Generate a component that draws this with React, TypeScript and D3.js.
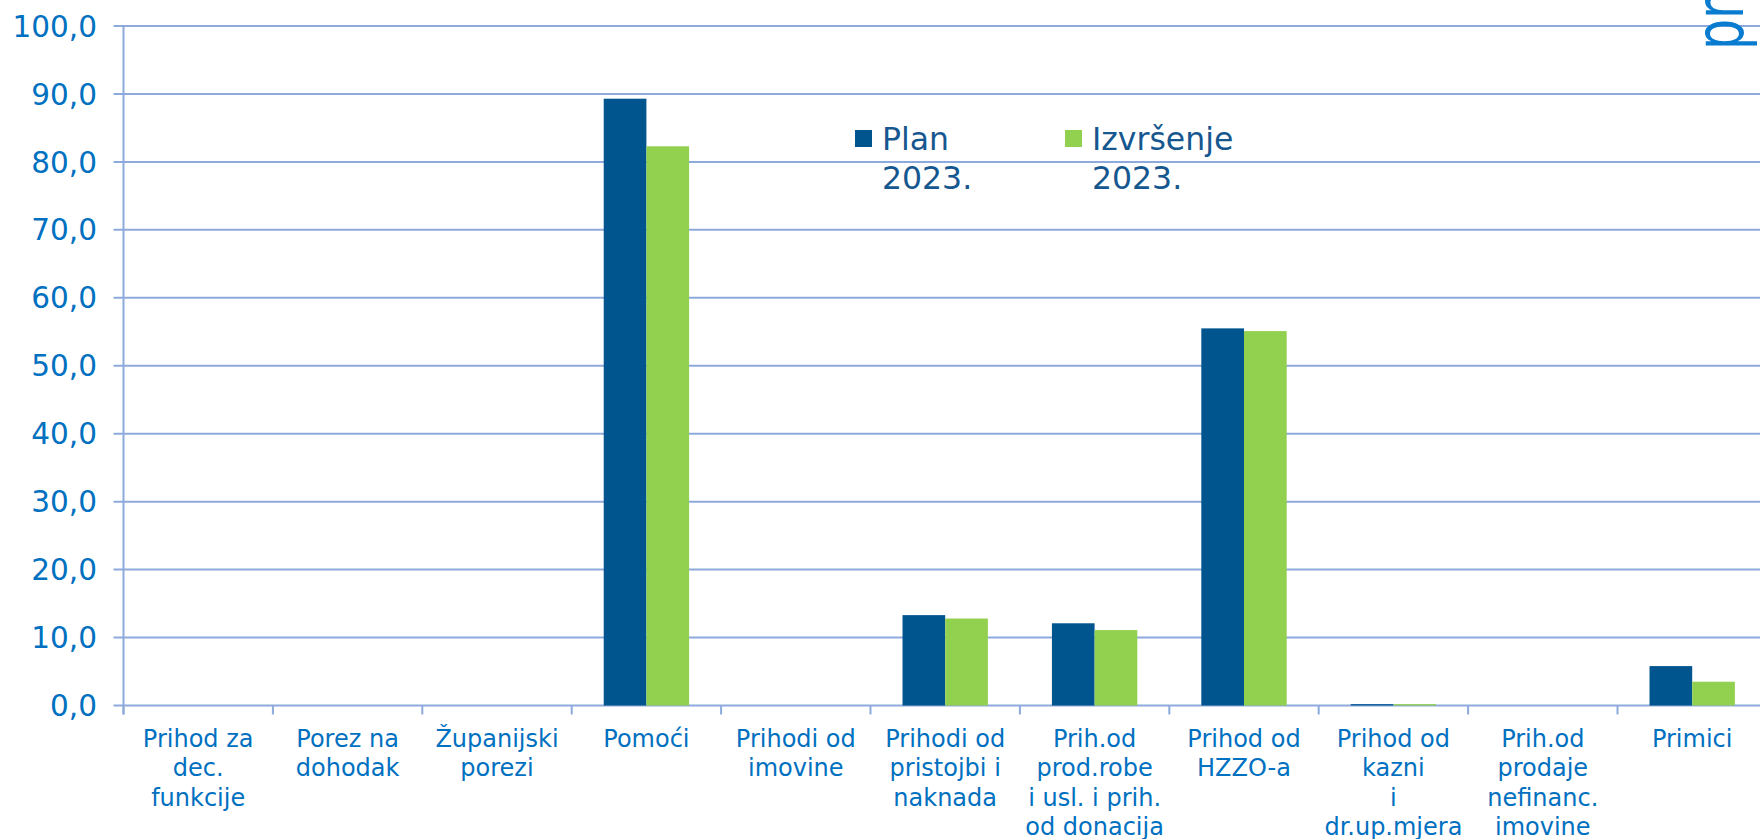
import React from "react";
import * as d3 from "d3";

const categories: string[] = [
  "Prihod za\ndec.\nfunkcije",
  "Porez na\ndohodak",
  "Županijski\nporezi",
  "Pomoći",
  "Prihodi od\nimovine",
  "Prihodi od\npristojbi i\nnaknada",
  "Prih.od\nprod.robe\ni usl. i prih.\nod donacija",
  "Prihod od\nHZZO-a",
  "Prihod od\nkazni\ni\ndr.up.mjera",
  "Prih.od\nprodaje\nnefinanc.\nimovine",
  "Primici",
];
const seriesNames: string[] = ["Plan 2023.", "Izvršenje 2023."];
const planValues: number[] = [0, 0, 0, 89.3, 0, 13.3, 12.1, 55.5, 0.2, 0, 5.8];
const izvrsenjeValues: number[] = [0, 0, 0, 82.3, 0, 12.8, 11.1, 55.1, 0.2, 0, 3.5];
const yTicks: number[] = [0, 10, 20, 30, 40, 50, 60, 70, 80, 90, 100];
const legendLines: string[][] = [
  ["Plan", "2023."],
  ["Izvršenje", "2023."],
];

const W = 1760;
const H = 839;
const left = 123.5;
const step = 149.4;
const y0 = 705.5;
const yTop = 26;
const colors = ["#00558F", "#92D050"];
const gridColor = "#8EA9DB";
const textBlue = "#0070C0";
const legendText = "#16578F";
const font = "'DejaVu Sans', Verdana, sans-serif";

export default function App() {
  const x0 = d3
    .scaleBand<string>()
    .domain(categories)
    .range([left, left + step * categories.length])
    .padding(0);
  const bw = x0.bandwidth() / 3.5;
  const x1 = d3
    .scaleBand<string>()
    .domain(seriesNames)
    .range([0.75 * bw, 2.75 * bw])
    .padding(0);
  const y = d3.scaleLinear().domain([0, 100]).range([y0, yTop]);
  const fmt = (v: number) => d3.format(".1f")(v).replace(".", ",");
  const seriesValues = [planValues, izvrsenjeValues];

  return (
    <svg
      width={W}
      height={H}
      style={{ position: "fixed", left: 0, top: 0, background: "#fff" }}
    >
      {yTicks.map((t) => (
        <line
          key={"g" + t}
          x1={left - 10}
          x2={W}
          y1={y(t)}
          y2={y(t)}
          stroke={gridColor}
          strokeWidth={2}
        />
      ))}
      <line x1={left} x2={left} y1={yTop} y2={y0 + 9} stroke={gridColor} strokeWidth={2} />
      {d3.range(categories.length + 1).map((i) => (
        <line
          key={"xt" + i}
          x1={left + i * step}
          x2={left + i * step}
          y1={y0}
          y2={y0 + 9}
          stroke={gridColor}
          strokeWidth={2}
        />
      ))}
      {yTicks.map((t) => (
        <text
          key={"yl" + t}
          x={97}
          y={y(t)}
          dy="0.36em"
          textAnchor="end"
          fontFamily={font}
          fontSize={29.5}
          fill={textBlue}
        >
          {fmt(t)}
        </text>
      ))}
      {categories.map((c, i) =>
        seriesNames.map((s, j) => {
          const v = seriesValues[j][i];
          if (v <= 0) return null;
          return (
            <rect
              key={c + s}
              x={(x0(c) as number) + (x1(s) as number)}
              y={y(v)}
              width={x1.bandwidth()}
              height={y0 - y(v)}
              fill={colors[j]}
            />
          );
        })
      )}
      {categories.map((c) => (
        <text
          key={"xl" + c}
          x={(x0(c) as number) + x0.bandwidth() / 2}
          y={747}
          textAnchor="middle"
          fontFamily={font}
          fontSize={24}
          fill={textBlue}
        >
          {c.split("\n").map((ln, k) => (
            <tspan key={k} x={(x0(c) as number) + x0.bandwidth() / 2} y={747 + k * 29.3}>
              {ln}
            </tspan>
          ))}
        </text>
      ))}
      {legendLines.map((lines, j) => {
        const lx = j === 0 ? 855 : 1065;
        return (
          <g key={"lg" + j}>
            <rect x={lx} y={130} width={17} height={17} fill={colors[j]} />
            {lines.map((ln, k) => (
              <text
                key={k}
                x={lx + 27}
                y={150 + k * 39}
                fontFamily={font}
                fontSize={31.5}
                fill={legendText}
              >
                {ln}
              </text>
            ))}
          </g>
        );
      })}
      <text
        transform="translate(1743,50) rotate(-90) scale(0.72,1)"
        fontFamily={font}
        fontSize={68}
        fill="#0A7CD0"
      >
        pr
      </text>
    </svg>
  );
}
